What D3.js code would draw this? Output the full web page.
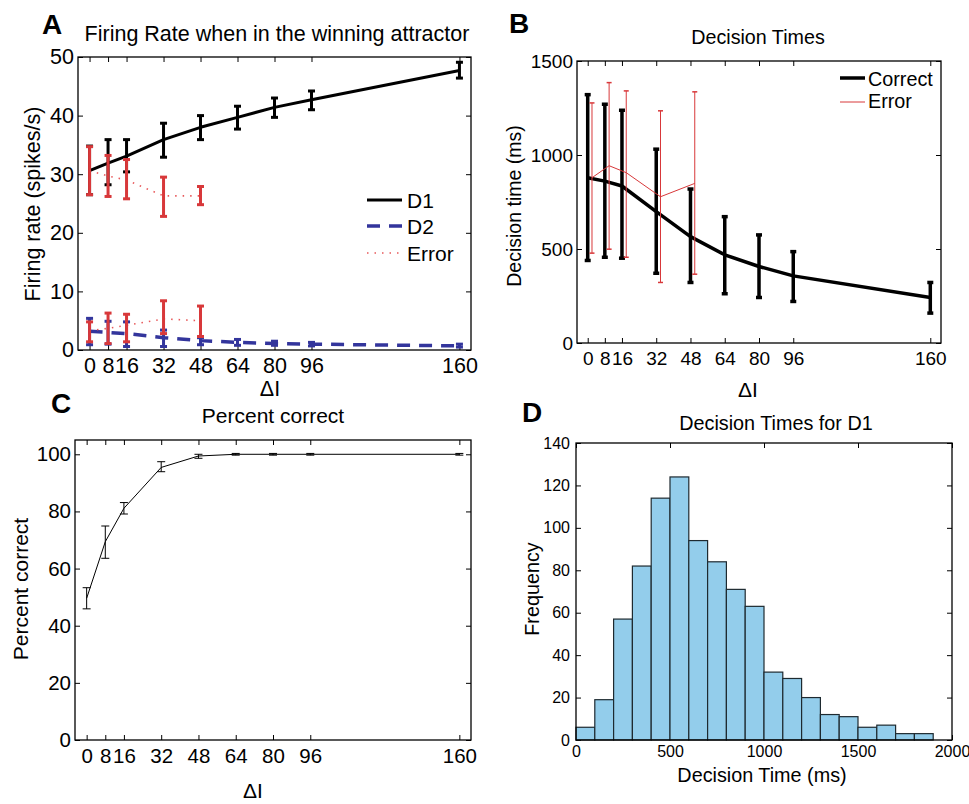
<!DOCTYPE html>
<html>
<head>
<meta charset="utf-8">
<script src="https://cdn.jsdelivr.net/npm/d3@7"></script>
<style>
  body { margin: 0; background: #fff; }
</style>
</head>
<body>
<script>
(function (d3) {
  'use strict';

  // ---- data ----
  const dI = [0, 8, 16, 32, 48, 64, 80, 96, 160];
  const dIErr = [0, 8, 16, 32, 48];
  const dITicks = [0, 8, 16, 32, 48, 64, 80, 96, 160];

  // A: firing rate in the winning attractor
  const d1Rate = [30.6, 31.9, 33.1, 35.9, 38.0, 39.7, 41.4, 42.7, 47.7];
  const d1Lo = [26.5, 28.2, 30.4, 32.9, 35.9, 37.7, 39.7, 41.0, 46.4];
  const d1Hi = [34.8, 35.9, 35.9, 38.7, 40.0, 41.6, 43.0, 44.2, 49.1];
  const d2Rate = [3.2, 3.0, 2.8, 2.1, 1.6, 1.3, 1.1, 1.0, 0.7];
  const d2Lo = [0.9, 1.0, 0.6, 0.6, 0.9, 0.8, 0.8, 0.7, 0.5];
  const d2Hi = [5.4, 4.9, 4.8, 3.4, 2.1, 1.8, 1.5, 1.3, 1.0];
  const errWinRate = [30.6, 29.7, 29.0, 26.3, 26.3];
  const errWinLo = [26.5, 26.2, 25.8, 22.8, 24.8];
  const errWinHi = [34.7, 33.2, 32.5, 29.5, 27.9];
  const errLoseRate = [3.3, 3.7, 4.2, 5.3, 5.0];
  const errLoseLo = [1.4, 1.1, 1.4, 2.8, 2.3];
  const errLoseHi = [4.8, 6.3, 6.1, 8.4, 7.5];
  const rateTicks = [0, 10, 20, 30, 40, 50];

  // B: decision times
  const dtCorrect = [879, 861, 835, 699, 566, 469, 407, 357, 242];
  const dtCorrectLo = [439, 456, 451, 371, 322, 262, 242, 221, 159];
  const dtCorrectHi = [1321, 1270, 1238, 1031, 819, 672, 575, 486, 322];
  const dtErrX = [2, 10, 18, 34, 50];
  const dtError = [879, 943, 906, 778, 849];
  const dtErrorLo = [478, 499, 456, 322, 366];
  const dtErrorHi = [1277, 1385, 1341, 1235, 1336];
  const dtTicks = [0, 500, 1000, 1500];

  // C: percent correct
  const pcMean = [49.6, 69.4, 81.1, 95.4, 99.4, 100, 100, 100, 100];
  const pcLo = [45.9, 63.6, 79.1, 93.9, 98.6, 99.7, 99.7, 99.7, 99.7];
  const pcHi = [53.3, 74.9, 83.1, 97.4, 100.0, 100.3, 100.3, 100.3, 100.3];
  const pcTicks = [0, 20, 40, 60, 80, 100];

  // D: histogram of decision times for D1
  const binStart = [0, 100, 200, 300, 400, 500, 600, 700, 800, 900,
                    1000, 1100, 1200, 1300, 1400, 1500, 1600, 1700, 1800, 1900];
  const binWidth = 100;
  const counts = [6, 19, 57, 82, 114, 124, 94, 84, 71, 63,
                  32, 29, 20, 12, 11, 6, 7, 3, 3, 0];
  const timeTicks = [0, 500, 1000, 1500, 2000];
  const freqTicks = [0, 20, 40, 60, 80, 100, 120, 140];

  // ---- drawing ----
  const FONT = '"Liberation Sans", Arial, Helvetica, sans-serif';
  const svg = d3.select('body').append('svg')
    .attr('width', 969)
    .attr('height', 804)
    .style('font-family', FONT);

  const fmt = d3.format('d');

  const frame = (props) => {
    const {
      left, top, right, bottom,
      xDomain, yDomain, xTicks, yTicks,
      fontSize, xPad, yPad
    } = props;
    const tl = 5;
    const x = d3.scaleLinear().domain(xDomain).range([left, right]);
    const y = d3.scaleLinear().domain(yDomain).range([bottom, top]);
    const g = svg.append('g');

    const style = sel => {
      sel.select('.domain').remove();
      sel.attr('font-family', FONT).attr('font-size', fontSize);
      sel.selectAll('line').attr('stroke', '#000').attr('stroke-width', 1);
      sel.selectAll('text').attr('fill', '#000');
    };

    g.append('g')
      .attr('transform', `translate(0,${bottom})`)
      .call(d3.axisBottom(x).tickValues(xTicks).tickSize(-tl).tickPadding(xPad).tickFormat(fmt))
      .call(style);
    g.append('g')
      .attr('transform', `translate(0,${top})`)
      .call(d3.axisTop(x).tickValues(xTicks).tickSize(-tl).tickFormat(''))
      .call(style);
    g.append('g')
      .attr('transform', `translate(${left},0)`)
      .call(d3.axisLeft(y).tickValues(yTicks).tickSize(-tl).tickPadding(yPad).tickFormat(fmt))
      .call(style);
    g.append('g')
      .attr('transform', `translate(${right},0)`)
      .call(d3.axisRight(y).tickValues(yTicks).tickSize(-tl).tickFormat(''))
      .call(style);

    const plot = g.append('g');

    g.append('rect')
      .attr('x', left)
      .attr('y', top)
      .attr('width', right - left)
      .attr('height', bottom - top)
      .attr('fill', 'none')
      .attr('stroke', '#000')
      .attr('stroke-width', 1.3);

    return { g, plot, x, y };
  };

  const drawLine = (g, x, y, xs, ys, style) => {
    const line = d3.line().x(d => x(d[0])).y(d => y(d[1]));
    g.append('path')
      .datum(xs.map((v, i) => [v, ys[i]]))
      .attr('d', line)
      .attr('fill', 'none')
      .attr('stroke', style.color)
      .attr('stroke-width', style.width)
      .attr('stroke-dasharray', style.dash || null)
      .attr('stroke-linejoin', 'round');
  };

  const errorBars = (g, x, y, xs, lo, hi, style) => {
    const bars = g.append('g')
      .attr('stroke', style.color)
      .attr('stroke-width', style.width)
      .selectAll('g')
      .data(xs.map((v, i) => ({ x: v, lo: lo[i], hi: hi[i] })))
      .enter().append('g');
    bars.append('line')
      .attr('x1', d => x(d.x)).attr('x2', d => x(d.x))
      .attr('y1', d => y(d.lo)).attr('y2', d => y(d.hi));
    bars.append('line')
      .attr('x1', d => x(d.x) - style.cap / 2).attr('x2', d => x(d.x) + style.cap / 2)
      .attr('y1', d => y(d.lo)).attr('y2', d => y(d.lo))
      .attr('stroke-width', style.capWidth || style.width);
    bars.append('line')
      .attr('x1', d => x(d.x) - style.cap / 2).attr('x2', d => x(d.x) + style.cap / 2)
      .attr('y1', d => y(d.hi)).attr('y2', d => y(d.hi))
      .attr('stroke-width', style.capWidth || style.width);
  };

  const label = (x, y, text, opts = {}) => {
    const t = svg.append('text')
      .attr('x', x)
      .attr('y', y)
      .attr('font-size', opts.size || 19)
      .attr('font-weight', opts.bold ? 'bold' : null)
      .attr('text-anchor', opts.anchor || 'middle')
      .attr('fill', '#000')
      .text(text);
    if (opts.rotate) {
      t.attr('transform', `rotate(-90,${x},${y})`);
    }
    return t;
  };

  const BLACK = '#000';
  const RED = '#d8383a';
  const RED_LIGHT = '#e8585a';
  const BLUE = '#33359c';

  // ---- Panel A ----
  {
    const fs = 21.5;
    const { plot, x, y } = frame({
      left: 78, top: 57, right: 471, bottom: 350,
      xDomain: [-5, 165], yDomain: [0, 50],
      xTicks: dITicks, yTicks: rateTicks,
      fontSize: fs, xPad: 7.7, yPad: 4
    });
    drawLine(plot, x, y, dI, d1Rate, { color: BLACK, width: 3 });
    errorBars(plot, x, y, dI, d1Lo, d1Hi, { color: BLACK, width: 3, cap: 7 });
    drawLine(plot, x, y, dI, d2Rate, { color: BLUE, width: 3.5, dash: '13,9' });
    errorBars(plot, x, y, dI, d2Lo, d2Hi, { color: BLUE, width: 3, cap: 7 });
    drawLine(plot, x, y, dIErr, errWinRate, { color: RED_LIGHT, width: 1.6, dash: '1.5,6' });
    drawLine(plot, x, y, dIErr, errLoseRate, { color: RED_LIGHT, width: 1.6, dash: '1.5,6' });
    errorBars(plot, x, y, dIErr, errWinLo, errWinHi, { color: RED, width: 3, cap: 7 });
    errorBars(plot, x, y, dIErr, errLoseLo, errLoseHi, { color: RED, width: 3, cap: 7 });

    // legend
    const lg = svg.append('g');
    const items = [
      { name: 'D1', color: BLACK, width: 3, dash: null, y: 200 },
      { name: 'D2', color: BLUE, width: 3.5, dash: '13,9', y: 226 },
      { name: 'Error', color: RED_LIGHT, width: 1.6, dash: '1.5,6', y: 253 }
    ];
    items.forEach(d => {
      lg.append('line')
        .attr('x1', 367).attr('x2', 402)
        .attr('y1', d.y).attr('y2', d.y)
        .attr('stroke', d.color)
        .attr('stroke-width', d.width)
        .attr('stroke-dasharray', d.dash);
      label(407, d.y + 8, d.name, { anchor: 'start', size: 21 });
    });

    label(42, 34, 'A', { size: 28, bold: true, anchor: 'start' });
    label(277, 41, 'Firing Rate when in the winning attractor', { size: fs });
    label(40, 204, 'Firing rate (spikes/s)', { rotate: true, size: fs });
    label(270, 396, '\u0394I', { size: fs });
  }

  // ---- Panel B ----
  {
    const { plot, x, y } = frame({
      left: 577, top: 61, right: 941, bottom: 343,
      xDomain: [-5, 165], yDomain: [0, 1500],
      xTicks: dITicks, yTicks: dtTicks,
      fontSize: 19, xPad: 8.5, yPad: 4
    });
    drawLine(plot, x, y, dI, dtCorrect, { color: BLACK, width: 3.5 });
    errorBars(plot, x, y, dI, dtCorrectLo, dtCorrectHi, { color: BLACK, width: 3.5, cap: 6 });
    drawLine(plot, x, y, dtErrX, dtError, { color: RED, width: 1 });
    errorBars(plot, x, y, dtErrX, dtErrorLo, dtErrorHi, { color: RED, width: 1, cap: 5, capWidth: 1.5 });

    const lg = svg.append('g');
    lg.append('line')
      .attr('x1', 840).attr('x2', 865).attr('y1', 78).attr('y2', 78)
      .attr('stroke', BLACK).attr('stroke-width', 3.5);
    lg.append('line')
      .attr('x1', 840).attr('x2', 865).attr('y1', 102).attr('y2', 102)
      .attr('stroke', RED).attr('stroke-width', 1);
    label(868, 86, 'Correct', { anchor: 'start', size: 19.8 });
    label(868, 108, 'Error', { anchor: 'start', size: 19.8 });

    label(509, 33, 'B', { size: 28, bold: true, anchor: 'start' });
    label(758, 44, 'Decision Times', { size: 19.7 });
    label(521, 206, 'Decision time (ms)', { rotate: true, size: 19.5 });
    label(748, 397, '\u0394I', { size: 21 });
  }

  // ---- Panel C ----
  {
    const fs = 21;
    const { plot, x, y } = frame({
      left: 75, top: 440, right: 471, bottom: 740,
      xDomain: [-5, 165], yDomain: [0, 105],
      xTicks: dITicks, yTicks: pcTicks,
      fontSize: 20.5, xPad: 8.2, yPad: 4
    });
    drawLine(plot, x, y, dI, pcMean, { color: BLACK, width: 1 });
    errorBars(plot, x, y, dI, pcLo, pcHi, { color: BLACK, width: 1, cap: 8 });

    label(51, 413, 'C', { size: 28, bold: true, anchor: 'start' });
    label(273, 423, 'Percent correct', { size: fs });
    label(28, 589, 'Percent correct', { rotate: true, size: fs });
    label(253, 798, '\u0394I', { size: fs });
  }

  // ---- Panel D ----
  {
    const { plot, x, y } = frame({
      left: 576, top: 443, right: 952, bottom: 740,
      xDomain: [0, 2000], yDomain: [0, 140],
      xTicks: timeTicks, yTicks: freqTicks,
      fontSize: 16, xPad: 5.5, yPad: 6
    });
    plot.selectAll('rect.bar')
      .data(binStart.map((s, i) => ({ s, c: counts[i] })))
      .enter().append('rect')
        .attr('class', 'bar')
        .attr('x', d => x(d.s))
        .attr('y', d => y(d.c))
        .attr('width', d => x(d.s + binWidth) - x(d.s))
        .attr('height', d => y(0) - y(d.c))
        .attr('fill', '#93cdeb')
        .attr('stroke', '#1e2a30')
        .attr('stroke-width', 1.2);

    label(522, 422, 'D', { size: 28, bold: true, anchor: 'start' });
    label(776, 430, 'Decision Times for D1', { size: 19.8 });
    label(539, 589, 'Frequency', { rotate: true, size: 19.8 });
    label(762, 782, 'Decision Time (ms)', { size: 19.8 });
  }

}(d3));
</script>
</body>
</html>
